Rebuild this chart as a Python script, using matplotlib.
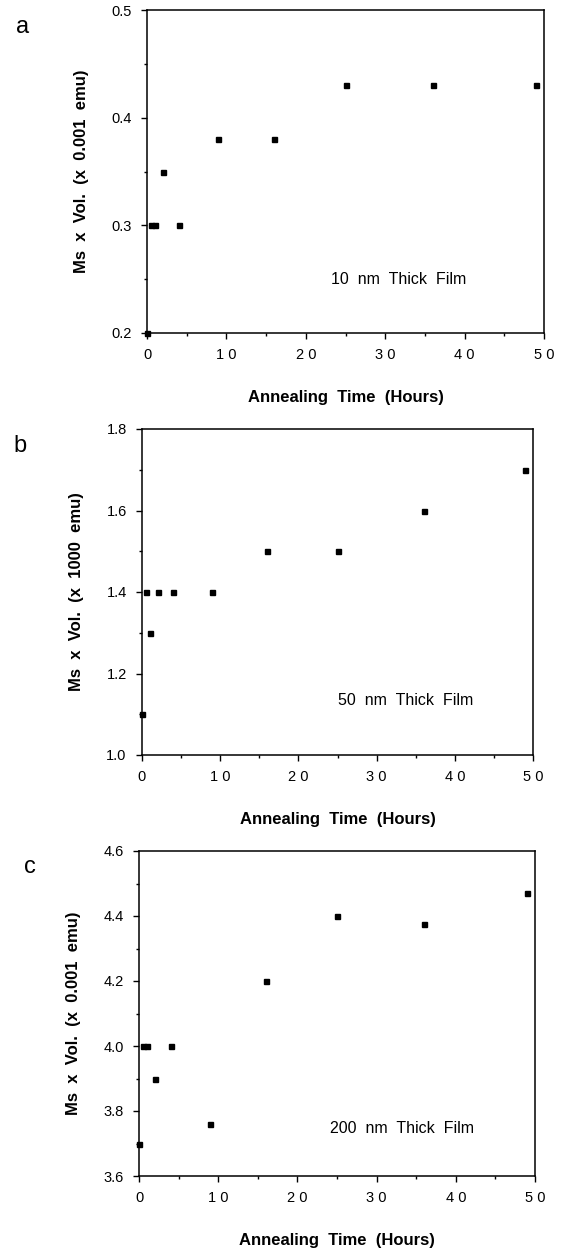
import matplotlib
matplotlib.use("Agg")
import matplotlib.pyplot as plt
from matplotlib.ticker import MultipleLocator

plt.rcParams['font.family'] = ['Liberation Sans', 'DejaVu Sans']

hours = [0, 0.5, 1, 2, 4, 9, 16, 25, 36, 49]
ms_10nm = [0.2, 0.3, 0.3, 0.35, 0.3, 0.38, 0.38, 0.43, 0.43, 0.43]
ms_50nm = [1.1, 1.4, 1.3, 1.4, 1.4, 1.4, 1.5, 1.5, 1.6, 1.7]
ms_200nm = [3.7, 4.0, 4.0, 3.9, 4.0, 3.76, 4.2, 4.4, 4.375, 4.47]

panels = [
    # letter, y data, ylabel, film text, ylim, ytick step, pixel box (l, r, t, b), text pos, letter pos
    ('a', ms_10nm, 'Ms  x  Vol.  (x  0.001  emu)', '10  nm  Thick  Film', (0.2, 0.5), 0.1,
     (147, 544, 10, 333), (0.464, 0.167), (23, 27)),
    ('b', ms_50nm, 'Ms  x  Vol.  (x  1000  emu)', '50  nm  Thick  Film', (1.0, 1.8), 0.2,
     (142, 533, 429, 755), (0.50, 0.167), (20, 446)),
    ('c', ms_200nm, 'Ms  x  Vol.  (x  0.001  emu)', '200  nm  Thick  Film', (3.6, 4.6), 0.2,
     (139, 535, 851, 1176), (0.482, 0.147), (30, 867)),
]

W, H = 564, 1249
fig = plt.figure(figsize=(W / 100, H / 100), dpi=100)

for letter, ys, ylab, film, ylim, step, box, tpos, lpos in panels:
    l, r, t, b = box
    ax = fig.add_axes([l / W, 1 - b / H, (r - l) / W, (b - t) / H])
    ax.plot(hours, ys, 's', color='black', markersize=3.6, clip_on=False)
    ax.set_ylim(*ylim)
    xt = [0, 10, 20, 30, 40, 50]
    ax.set_xticks(xt)
    ax.set_xticklabels([' '.join(str(v)) for v in xt])
    ax.set_xlim(0, 50)
    ax.xaxis.set_minor_locator(MultipleLocator(5))
    ax.yaxis.set_major_locator(MultipleLocator(step))
    ax.yaxis.set_minor_locator(MultipleLocator(step / 2))
    ax.tick_params(which='major', direction='out', length=4, width=1, labelsize=10.5, pad=7)
    ax.tick_params(which='minor', direction='out', length=2, width=1)
    for s in ax.spines.values():
        s.set_linewidth(1.1)
    ax.set_xlabel('Annealing  Time  (Hours)', fontsize=12, fontweight='bold', labelpad=20)
    ax.set_ylabel(ylab, fontsize=12, fontweight='bold', labelpad=16)
    ax.text(tpos[0], tpos[1], film, transform=ax.transAxes, fontsize=11.5, va='center')
    fig.text(lpos[0] / W, 1 - lpos[1] / H, letter, fontsize=17, ha='center', va='center')

fig.savefig('out.png', dpi=100)
